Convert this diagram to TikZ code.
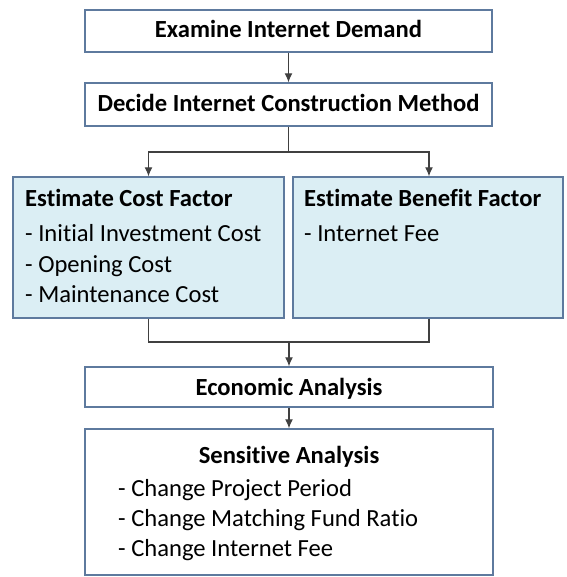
\documentclass[tikz,border=0pt]{standalone}
\usepackage{fontspec}
\setmainfont{Carlito}[Ligatures={NoCommon}]
\usetikzlibrary{arrows.meta}
\definecolor{boxline}{HTML}{5E7A9E}
\definecolor{boxfill}{HTML}{DBEEF4}
\tikzset{
  box/.style={draw=boxline, line width=1.4pt, rectangle, inner sep=0pt},
  fbox/.style={box, fill=boxfill},
  head/.style={font=\fontsize{24.6}{24.6}\selectfont\bfseries, inner sep=0pt},
  body/.style={font=\fontsize{24.6}{24.6}\selectfont, inner sep=0pt},
  conn/.style={draw=black!75, line width=1.2pt},
  arr/.style={conn, -{Latex[length=9pt,width=8pt]}}
}
\begin{document}
\begin{tikzpicture}[x=1pt,y=-1pt]
\useasboundingbox (0,0) rectangle (566,577);
\node[box, minimum width=407pt, minimum height=42pt] (b1) at (288.5,31) {};
\node[box, minimum width=407pt, minimum height=43pt] (b2) at (288.5,104.5) {};
\node[fbox, minimum width=271pt, minimum height=141pt] (b3) at (148.5,247.5) {};
\node[fbox, minimum width=270pt, minimum height=141pt] (b4) at (428,247.5) {};
\node[box, minimum width=408pt, minimum height=40pt] (b5) at (289,387) {};
\node[box, minimum width=408pt, minimum height=146pt] (b6) at (289,502) {};

\node[head, anchor=base] (t1) at (288.5,38) {Examine Internet Demand};
\node[head, anchor=base] (t2) at (288.5,112) {Decide Internet Construction Method};
\node[head, anchor=base west] (t3) at (25,206) {Estimate Cost Factor};
\node[body, anchor=base west] (t3a) at (25,241) {- Initial Investment Cost};
\node[body, anchor=base west] (t3b) at (25,272) {- Opening Cost};
\node[body, anchor=base west] (t3c) at (25,302) {- Maintenance Cost};
\node[head, anchor=base west] (t4) at (304,206) {Estimate Benefit Factor};
\node[body, anchor=base west] (t4a) at (304,241) {- Internet Fee};
\node[head, anchor=base] (t5) at (289,395) {Economic Analysis};
\node[head, anchor=base] (t6) at (289,463) {Sensitive Analysis};
\node[body, anchor=base west] (t6a) at (118,496) {- Change Project Period};
\node[body, anchor=base west] (t6b) at (118,526) {- Change Matching Fund Ratio};
\node[body, anchor=base west] (t6c) at (118,556) {- Change Internet Fee};

\coordinate (j1) at (288.5,152);
\coordinate (j2) at (289,342);
\draw[arr] (b1) -- (b2);
\draw[conn] (b2.south) -- (j1);
\draw[arr] (j1) -| (b3.north);
\draw[arr] (j1) -| ([xshift=1pt]b4.north);
\draw[conn] (b3.south) |- (j2);
\draw[conn] ([xshift=1pt]b4.south) |- (j2);
\draw[arr] (j2) -- (b5.north);
\draw[arr] (b5) -- (b6);
\end{tikzpicture}
\end{document}
